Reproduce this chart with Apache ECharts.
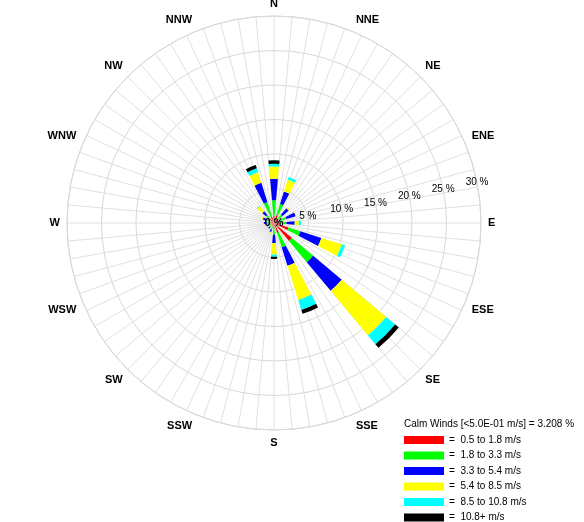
<!DOCTYPE html>
<html><head><meta charset="utf-8">
<script src="https://cdn.jsdelivr.net/npm/echarts@6/dist/echarts.min.js"></script>
<style>html,body{margin:0;padding:0;background:#fff}#c{width:584px;height:522px}</style>
</head><body><div id="c"></div>
<script>
// Wind directions (clockwise from North)
const directions = ['N','NNE','NE','ENE','E','ESE','SE','SSE','S','SSW','SW','WSW','W','WNW','NW','NNW'];
// Wind speed classes
const speedBins = ['0.5 to 1.8 m/s','1.8 to 3.3 m/s','3.3 to 5.4 m/s','5.4 to 8.5 m/s','8.5 to 10.8 m/s','10.8+ m/s'];
const binColors = ['#ff0000','#00ff00','#0000ff','#ffff00','#00ffff','#000000'];
// Frequency (%) per direction for each speed class
const bin1 = [1.0, 1.2, 0.8, 0.9, 0.8, 2.2, 3.4, 1.5, 0.8, 0.5, 0.4, 0.4, 0.5, 0.5, 0.8, 1.0];
const bin2 = [2.3, 1.7, 0.8, 1.0, 1.0, 1.8, 4.0, 2.2, 0.9, 0.5, 0.4, 0.4, 0.5, 0.6, 0.7, 2.2];
const bin3 = [3.1, 1.9, 1.2, 1.4, 1.2, 3.2, 5.4, 2.8, 1.2, 0.4, 0.3, 0.3, 0.5, 0.6, 0.7, 2.9];
const bin4 = [1.8, 1.8, 0.2, 0.1, 0.6, 3.1, 8.4, 5.2, 1.7, 0.2, 0.0, 0.0, 0.1, 0.2, 1.0, 1.6];
const bin5 = [0.4, 0.4, 0.0, 0.0, 0.3, 0.5, 1.7, 1.5, 0.3, 0.0, 0.0, 0.0, 0.0, 0.0, 0.1, 0.6];
const bin6 = [0.5, 0.0, 0.0, 0.0, 0.0, 0.0, 0.7, 0.6, 0.3, 0.0, 0.0, 0.0, 0.0, 0.0, 0.0, 0.5];
const binValues = [bin1, bin2, bin3, bin4, bin5, bin6];
// Radius ticks (%)
const radiusMax = 30;
const radiusStep = 5;
const calmText = 'Calm Winds [<5.0E-01 m/s] = 3.208 %';

const chart = echarts.init(document.getElementById('c'), null, {renderer: 'canvas'});
const font = 'Liberation Sans, Arial, sans-serif';
const C = [274, 223], R = 207;

const option = {
  animation: false,
  backgroundColor: '#fff',
  title: {
    text: calmText, left: 404, top: 419, padding: 0,
    textStyle: {fontSize: 10, fontWeight: 'normal', color: '#000', fontFamily: font}
  },
  legend: {
    orient: 'vertical', left: 404, top: 434, padding: 0, height: 100,
    itemWidth: 40, itemHeight: 8, itemGap: 3.5, icon: 'rect', selectedMode: false,
    data: speedBins,
    formatter: n => '=  ' + n,
    textStyle: {fontSize: 10, lineHeight: 12, color: '#000', fontFamily: font}
  },
  polar: [
    {center: C, radius: R},
    {center: C, radius: R},
    {center: C, radius: R}
  ],
  angleAxis: [
    {polarIndex: 0, type: 'value', min: 0, max: 360, interval: 5, startAngle: 90,
     axisLine: {show: true, lineStyle: {color: '#d8d8d8'}}, axisTick: {show: false},
     axisLabel: {show: false}, splitLine: {show: true, lineStyle: {color: '#e0e0e0', width: 1}}},
    {polarIndex: 1, type: 'category', data: directions, startAngle: 101.25, boundaryGap: true,
     axisLine: {show: false}, axisTick: {show: false}, splitLine: {show: false},
     axisLabel: {margin: 7, align: 'center', verticalAlign: 'middle',
       fontSize: 11, fontWeight: 'bold', color: '#000', fontFamily: font}},
    {polarIndex: 2, type: 'value', startAngle: 11.25, show: false, min: 0, max: 360}
  ],
  radiusAxis: [
    {polarIndex: 0, type: 'value', min: 0, max: radiusMax, interval: radiusStep,
     axisLine: {show: false}, axisTick: {show: false}, axisLabel: {show: false},
     splitLine: {show: true, lineStyle: {color: '#d8d8d8'}}},
    {polarIndex: 1, type: 'value', min: 0, max: radiusMax, show: false},
    {polarIndex: 2, type: 'value', min: 0, max: radiusMax, interval: radiusStep, z: 10,
     axisLine: {show: false}, axisTick: {show: false}, splitLine: {show: false},
     axisLabel: {margin: 0, align: 'center', verticalAlign: 'middle',
       color: '#000', fontSize: 10, fontFamily: font,
       formatter: v => v === 0 ? '{z|0 %}' : v + ' %',
       rich: {z: {fontSize: 11, fontWeight: 'bold', color: '#000', fontFamily: font}}}}
  ],
  series: speedBins.map((name, i) => ({
    name, type: 'bar', coordinateSystem: 'polar', polarIndex: 1, stack: 'wind',
    barWidth: '45%', silent: true,
    itemStyle: {color: binColors[i]},
    data: binValues[i]
  }))
};
chart.setOption(option);
</script></body></html>
